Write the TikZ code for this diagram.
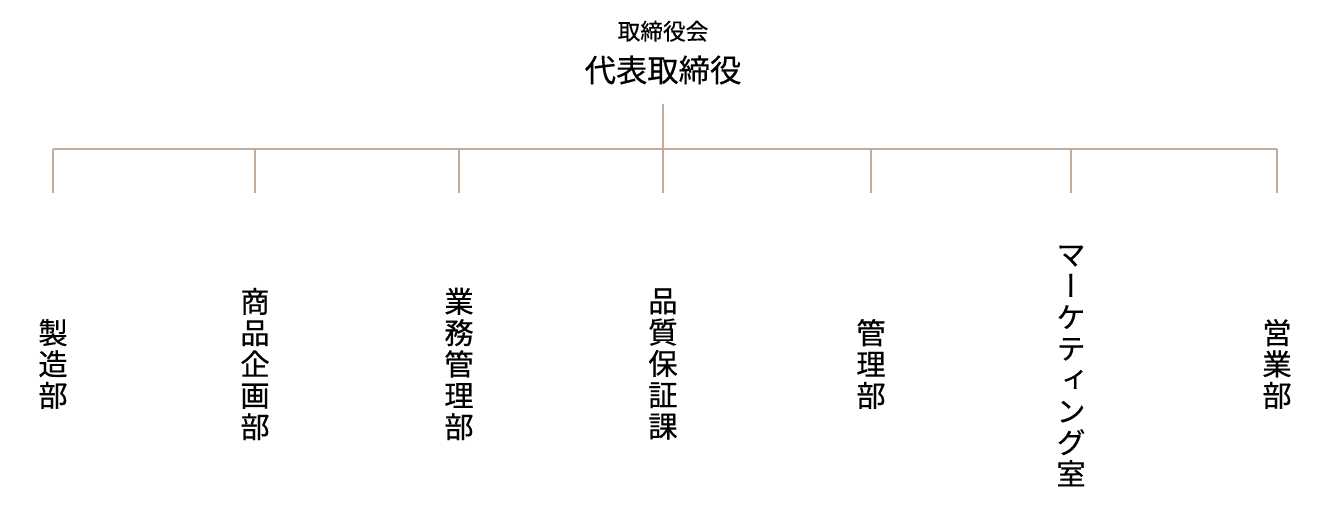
\documentclass[tikz,border=0pt]{standalone}
\usepackage{fontspec}
\setmainfont[FakeBold=0.4,AutoFakeBold=0.4]{Noto Sans CJK JP}
\newfontfamily\tatefont[RawFeature=+vert,FakeBold=0.4,AutoFakeBold=0.4]{Noto Sans CJK JP}
\usetikzlibrary{positioning}
\definecolor{linebrown}{RGB}{196,170,152}

\begin{document}
\begin{tikzpicture}[x=0.75pt,y=-0.75pt,
  dept/.style={align=center,inner sep=0pt,
    font=\tatefont\bfseries\fontsize{22}{23.5}\selectfont},
  branch/.style={draw=linebrown,line width=1.5pt}]
\useasboundingbox (0,0) rectangle (1328,530);

\node (CEO) [inner sep=0pt, font=\bfseries\fontsize{23.5}{26}\selectfont] at (663,70) {代表取締役};
\node (Board) [above=10pt of CEO, inner sep=0pt, font=\bfseries\fontsize{17}{20}\selectfont] {取締役会};

\coordinate (stem) at (663,104);
\coordinate (bus) at (663,149);
\coordinate (busL) at (53,149);
\coordinate (busR) at (1277,149);

\node (Seizo) [dept] at (53,364) {製\\造\\部};
\node (Shohin) [dept] at (255,364) {商\\品\\企\\画\\部};
\node (Gyomu) [dept] at (459,364) {業\\務\\管\\理\\部};
\node (Hinshitsu) [dept] at (663,364) {品\\質\\保\\証\\課};
\node (Kanri) [dept] at (871,364) {管\\理\\部};
\node (Marketing) [dept] at (1071,366) {マ\\ー\\ケ\\テ\\ィ\\ン\\グ\\室};
\node (Eigyo) [dept] at (1277,364) {営\\業\\部};

\draw[branch] (stem) -- (bus);
\draw[branch] (busL) -- (busR);
\foreach \d/\x in {Seizo/53,Shohin/255,Gyomu/459,Hinshitsu/663,Kanri/871,Marketing/1071,Eigyo/1277}{
  \coordinate (\d top) at (\x,149);
  \coordinate (\d end) at (\x,193);
  \draw[branch] (\d top) -- (\d end);
}
\end{tikzpicture}
\end{document}
